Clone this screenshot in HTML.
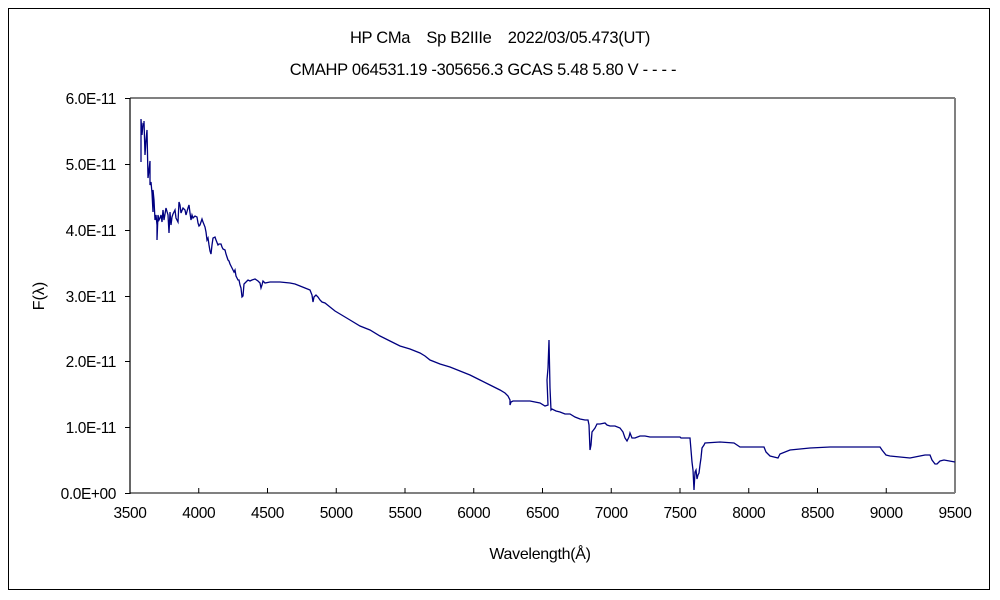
<!DOCTYPE html>
<html><head><meta charset="utf-8"><style>
body{margin:0;background:#fff;}
svg{display:block;font-family:"Liberation Sans","Noto Sans CJK JP",sans-serif;}
</style></head><body>
<svg width="1000" height="600" viewBox="0 0 1000 600">
<rect x="0" y="0" width="1000" height="600" fill="#fff"/>
<rect x="8.5" y="8.5" width="981" height="581" fill="none" stroke="#000" stroke-width="1"/>
<text x="500" y="43" font-size="16.5" text-anchor="middle" letter-spacing="-0.3">HP CMa　Sp B2IIIe　2022/03/05.473(UT)</text>
<text x="483" y="75" font-size="16.5" text-anchor="middle" letter-spacing="-0.3">CMAHP 064531.19 -305656.3 GCAS 5.48 5.80 V - - - -</text>
<line x1="130" y1="98" x2="955" y2="98" stroke="#808080" stroke-width="2"/>
<line x1="955" y1="98" x2="955" y2="493" stroke="#808080" stroke-width="2"/>
<line x1="130" y1="493" x2="955" y2="493" stroke="#808080" stroke-width="2"/>
<line x1="130" y1="98" x2="130" y2="494" stroke="#000" stroke-width="1.2"/>
<g stroke="#000" stroke-width="1">
<line x1="125" y1="98.5" x2="130" y2="98.5"/><line x1="125" y1="164.5" x2="130" y2="164.5"/><line x1="125" y1="230.5" x2="130" y2="230.5"/><line x1="125" y1="296.5" x2="130" y2="296.5"/><line x1="125" y1="361.5" x2="130" y2="361.5"/><line x1="125" y1="427.5" x2="130" y2="427.5"/><line x1="125" y1="493.5" x2="130" y2="493.5"/>
<line x1="198.75" y1="488" x2="198.75" y2="493"/><line x1="267.5" y1="488" x2="267.5" y2="493"/><line x1="336.25" y1="488" x2="336.25" y2="493"/><line x1="405" y1="488" x2="405" y2="493"/><line x1="473.75" y1="488" x2="473.75" y2="493"/><line x1="542.5" y1="488" x2="542.5" y2="493"/><line x1="611.25" y1="488" x2="611.25" y2="493"/><line x1="680" y1="488" x2="680" y2="493"/><line x1="748.75" y1="488" x2="748.75" y2="493"/><line x1="817.5" y1="488" x2="817.5" y2="493"/><line x1="886.25" y1="488" x2="886.25" y2="493"/>
</g>
<g font-size="15.5" text-anchor="end" letter-spacing="-0.4">
<text x="116" y="104">6.0E-11</text><text x="116" y="170">5.0E-11</text><text x="116" y="236">4.0E-11</text><text x="116" y="302">3.0E-11</text><text x="116" y="367">2.0E-11</text><text x="116" y="433">1.0E-11</text><text x="116" y="499">0.0E+00</text>
</g>
<g font-size="15.5" text-anchor="middle" letter-spacing="-0.4">
<text x="130" y="518">3500</text><text x="198.75" y="518">4000</text><text x="267.5" y="518">4500</text><text x="336.25" y="518">5000</text><text x="405" y="518">5500</text><text x="473.75" y="518">6000</text><text x="542.5" y="518">6500</text><text x="611.25" y="518">7000</text><text x="680" y="518">7500</text><text x="748.75" y="518">8000</text><text x="817.5" y="518">8500</text><text x="886.25" y="518">9000</text><text x="955" y="518">9500</text>
</g>
<text x="540" y="559" font-size="16" text-anchor="middle" letter-spacing="-0.3">Wavelength(Å)</text>
<text transform="translate(44,296) rotate(-90)" font-size="16" text-anchor="middle">F(λ)</text>
<polyline fill="none" stroke="#000080" stroke-width="1.3" points="141,162 141,119 142,135 143,124 144,125 144,121 145,155 146,140 147,130 148,178 149,170 150,161 150,185 151,182 152,193 153,212 153,190 154,200 155,220 156,215 157,225 157,240 158,215 159,220 160,218 161,215 162,222 163,210 164,220 166,208 168,215 169,233 170,212 171,225 172,217 173,214 175,210 176,218 178,222 179,202 180,205 181,213 183,208 185,210 186,215 188,208 189,205 190,213 191,220 192,215 193,218 195,216 197,217 198,223 199,226 200,225 201,222 202,219 203,222 205,227 206,232 207,240 208,238 209,245 210,251 211,254 212,245 213,238 215,237 216,240 218,245 219,244 221,244 222,247 223,249 225,250 226,254 227,257 228,260 229,261 230,264 231,266 232,268 234,272 235,270 236,276 237,278 238,280 239,280 240,285 241,288 242,297 243,296 244,284 246,282 248,280 250,281 252,280 255,279 258,281 260,283 261,288 262,285 263,281 265,283 270,282 280,282 290,283 295,284 300,286 305,288 310,290 312,295 313,302 314,297 316,295 318,297 320,300 322,302 325,303 330,307 335,311 340,314 350,320 360,326 370,330 380,336 390,341 400,346 410,349 420,353 425,356 430,360 440,364 450,367 460,371 470,375 480,380 490,385 500,390 505,393 508,396 510,400 510,405 511,402 513,401 530,401 540,403 545,406 548,405 547,380 548,368 549,340 550,388 551,410 552,409 556,411 560,412 565,414 570,414 575,417 580,419 585,420 588,420 589,425 590,450 591,445 592,432 595,428 597,424 600,424 605,423 607,425 610,426 615,426 620,428 623,432 625,438 627,441 629,437 630,433 632,438 635,438 640,436 645,436 650,437 680,437 681,438 690,438 692,462 693,470 694,490 695,472 696,470 697,479 698,475 699,473 700,465 701,458 702,448 704,445 705,443 720,442 734,443 740,447 764,447 766,452 770,456 778,458 780,454 790,450 800,449 810,448 830,447 855,447 880,447 882,450 886,455 890,456 900,457 910,458 920,456 925,455 930,455 932,460 935,464 937,464 940,461 944,460 955,462"/>
</svg>
</body></html>
